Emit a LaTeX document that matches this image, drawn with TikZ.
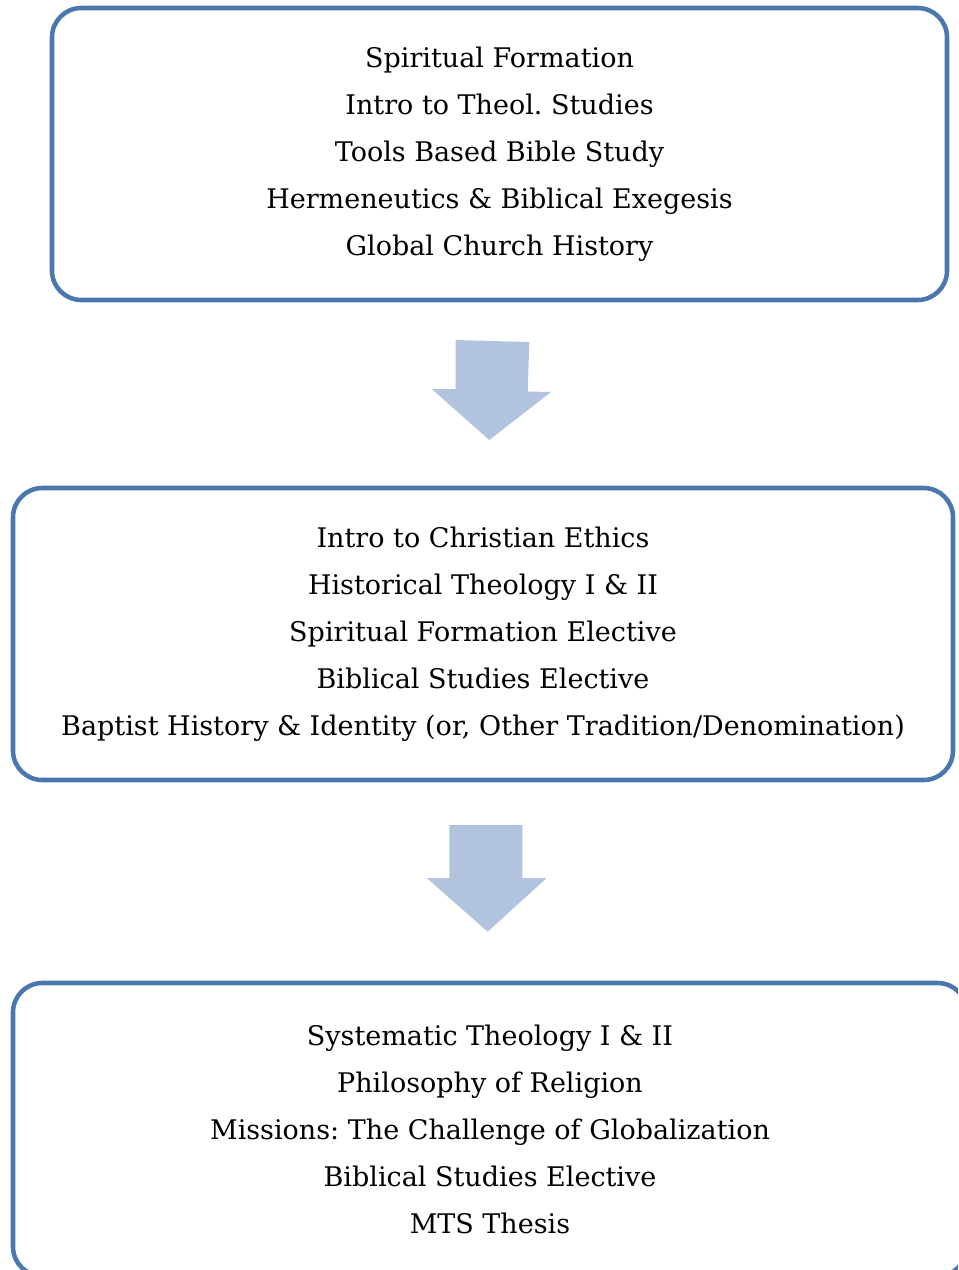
\documentclass[tikz,border=0pt]{standalone}
\usepackage{fontspec}
\setmainfont{DejaVu Serif}
\usepackage{tikz}
\definecolor{box_blue}{RGB}{74,119,173}
\definecolor{arrow_blue}{RGB}{178,195,222}
\frenchspacing

\begin{document}
\begin{tikzpicture}[x=0.75pt,y=-0.75pt]
    \tikzstyle{stage}=[draw=box_blue, line width=3.4pt, rounded corners=22pt, align=center, text=black,
                       font=\fontsize{20.25}{35.25}\selectfont, inner sep=0pt]
    \tikzstyle{lowered}=[execute at begin node={\vspace*{3.5pt}}]
    \tikzstyle{blockarrow}=[fill=arrow_blue, draw=none]
    \useasboundingbox (0,0) rectangle (958,1270);
    \clip (0,0) rectangle (958,1270);

    \node[stage, lowered, minimum width=671.25pt, minimum height=219pt] (first) at (499.5,154)
      {Spiritual Formation\\Intro to Theol. Studies\\Tools Based Bible Study\\Hermeneutics \& Biblical Exegesis\\Global Church History};
    \node[stage, lowered, minimum width=705pt, minimum height=219pt] (second) at (483,634)
      {Intro to Christian Ethics\\Historical Theology I \& II\\Spiritual Formation Elective\\Biblical Studies Elective\\Baptist History \& Identity (or, Other Tradition/Denomination)};
    \node[stage, minimum width=715.5pt, minimum height=219.75pt] (third) at (490,1129.5)
      {Systematic Theology I \& II\\Philosophy of Religion\\Missions: The Challenge of Globalization\\Biblical Studies Elective\\MTS Thesis};

    % arrows between the stages
    \path[blockarrow] (455.7,340) -- (529.3,342) -- (527.7,391.5) -- (551,392) -- (489.3,440) -- (431.7,389) -- (455.5,389) -- cycle;
    \path[blockarrow] (449.3,825) -- (522.3,825) -- (522.3,878) -- (546.7,878) -- (487.7,931.7) -- (426.7,878) -- (449.3,878) -- cycle;
\end{tikzpicture}
\end{document}
